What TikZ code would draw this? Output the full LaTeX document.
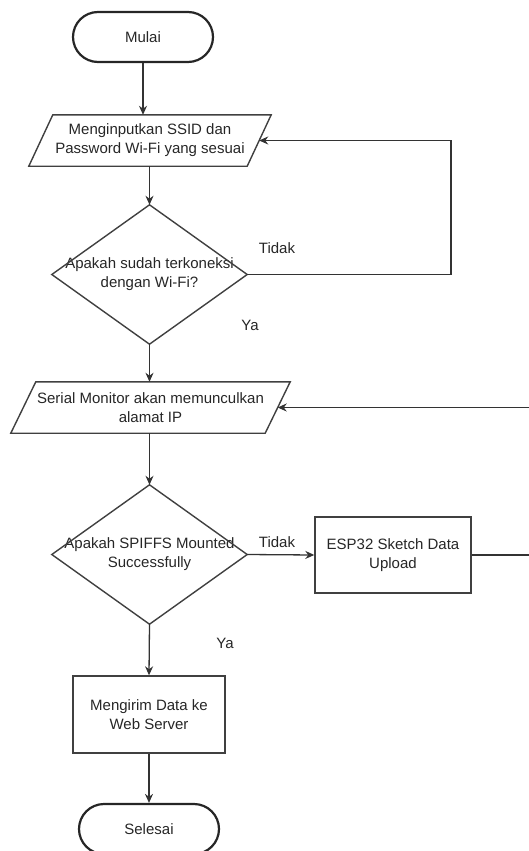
\documentclass[tikz,border=0pt]{standalone}
\usepackage{fontspec}
\setmainfont{Liberation Sans}
\usetikzlibrary{arrows.meta,calc}
\begin{document}
\begin{tikzpicture}[x=1pt,y=-1pt,
  every node/.style={font=\fontsize{15}{19}\selectfont, text=black!85, align=center},
  ln/.style={draw=black!80, line width=1.3pt},
  arr/.style={ln, -{Stealth[length=9pt,width=8pt]}},
  term/.style={draw=black!85, line width=2.2pt, rounded corners=25pt, minimum width=140pt, minimum height=50pt, inner sep=0pt},
  ghost/.style={inner sep=0pt},
  boxx/.style={draw=black!75, line width=1.4pt, inner sep=0pt},
  lbl/.style={inner sep=0pt}
]
\useasboundingbox (0,0) rectangle (529,851);

% nodes
\node[term] (mulai) at (143,37) {Mulai};
\node[ghost, minimum width=218pt, minimum height=51pt] (p1) at (150,140.5)
  {Menginputkan SSID dan\\Password Wi-Fi yang sesuai};
\node[ghost, minimum width=195pt, minimum height=139pt] (d1) at (149.5,274.5)
  {Apakah sudah terkoneksi\\dengan Wi-Fi?};
\node[ghost, minimum width=254pt, minimum height=51pt] (p2) at (150.5,407.5)
  {Serial Monitor akan memunculkan\\alamat IP};
\node[ghost, minimum width=195pt, minimum height=139pt] (d2) at (149.5,554.5)
  {Apakah SPIFFS Mounted\\Successfully};
\node[boxx, minimum width=156pt, minimum height=76pt] (esp) at (393,555)
  {ESP32 Sketch Data\\Upload};
\node[boxx, minimum width=152pt, minimum height=77pt] (kirim) at (149,714.5)
  {Mengirim Data ke\\Web Server};
\node[term] (selesai) at (149,829) {Selesai};

% shapes drawn from anchors
\draw[boxx] ($(p1.north west)+(12,0)$) -- ($(p1.north east)+(12,0)$)
  -- ($(p1.south east)+(-12,0)$) -- ($(p1.south west)+(-12,0)$) -- cycle;
\draw[boxx] ($(p2.north west)+(12.5,0)$) -- ($(p2.north east)+(12.5,0)$)
  -- ($(p2.south east)+(-12.5,0)$) -- ($(p2.south west)+(-12.5,0)$) -- cycle;
\draw[boxx] (d1.north) -- (d1.east) -- (d1.south) -- (d1.west) -- cycle;
\draw[boxx] (d2.north) -- (d2.east) -- (d2.south) -- (d2.west) -- cycle;

% labels
\node[lbl] (t1) at (277,248) {Tidak};
\node[lbl] (y1) at (250,325) {Ya};
\node[lbl] (t2) at (277,542) {Tidak};
\node[lbl] (y2) at (225,643) {Ya};

% corner coordinates
\coordinate (c1) at (451,274.5);
\coordinate (c2) at (531,555);

% connectors
\draw[arr] (mulai.south) -- (mulai.south |- p1.north);
\draw[arr] (p1.south -| d1.north) -- (d1.north);
\draw[arr] (d1.east) -- (c1) |- (p1.east);
\draw[arr] (d1.south) -- (d1.south |- p2.north);
\draw[arr] (p2.south -| d2.north) -- (d2.north);
\draw[arr] (d2.east) -- (esp.west);
\draw[arr] (esp.east) -- (c2) |- (p2.east);
\draw[arr] (d2.south) -- (kirim.north);
\draw[arr] (kirim.south) -- (selesai.north);
\end{tikzpicture}
\end{document}
